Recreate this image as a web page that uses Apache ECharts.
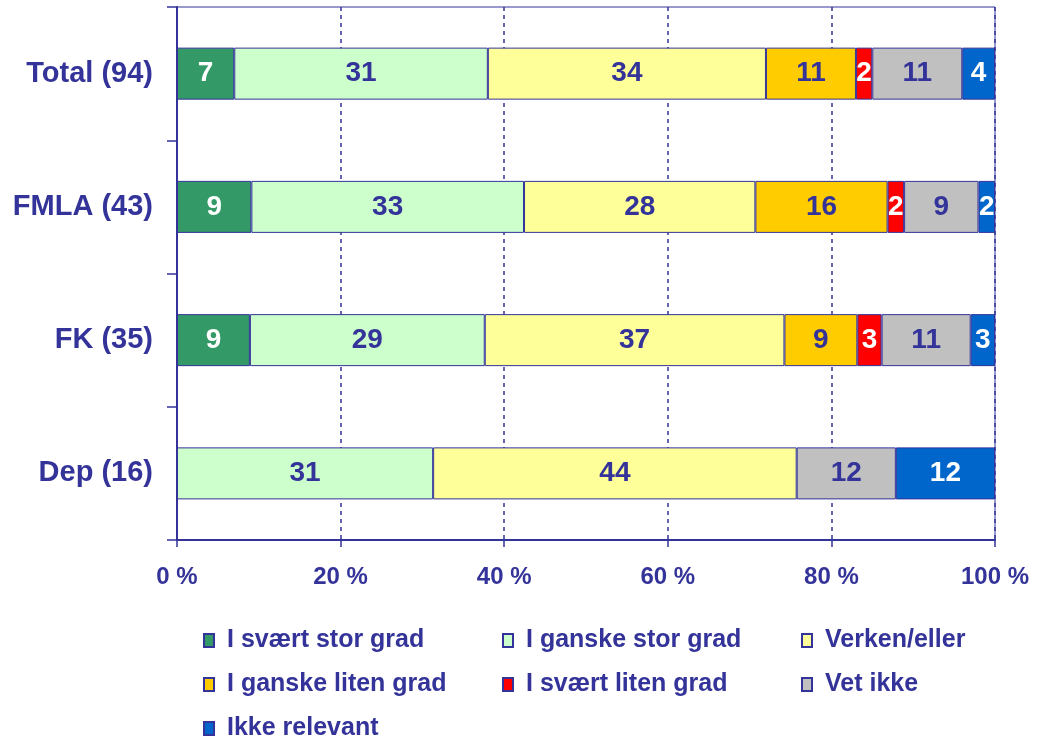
<!DOCTYPE html>
<html>
<head>
<meta charset="utf-8">
<script src="https://cdn.jsdelivr.net/npm/echarts@6/dist/echarts.min.js"></script>
<style>
  html, body { margin: 0; padding: 0; background: #ffffff; }
  #chart { width: 1038px; height: 738px; }
</style>
</head>
<body>
<div id="chart"></div>
<script>
// Groups, top to bottom (number of respondents in brackets)
const categories = ['Total (94)', 'FMLA (43)', 'FK (35)', 'Dep (16)'];

// Answer shares in percent per group, in the order of categories
const svaertStor   = [7, 9, 9, 0];
const ganskeStor   = [31, 33, 29, 31];
const verkenEller  = [34, 28, 37, 44];
const ganskeLiten  = [11, 16, 9, 0];
const svaertLiten  = [2, 2, 3, 0];
const vetIkke      = [11, 9, 11, 12];
const ikkeRelevant = [4, 2, 3, 12];

const xTicks = [0, 20, 40, 60, 80, 100];

const seriesNames = ['I svært stor grad', 'I ganske stor grad', 'Verken/eller',
  'I ganske liten grad', 'I svært liten grad', 'Vet ikke', 'Ikke relevant'];
const seriesValues = [svaertStor, ganskeStor, verkenEller, ganskeLiten, svaertLiten, vetIkke, ikkeRelevant];
const seriesColors = ['#339966', '#CCFFCC', '#FFFF99', '#FFCC00', '#FF0000', '#C0C0C0', '#0066CC'];
const labelColors  = ['#FFFFFF', '#333399', '#333399', '#333399', '#FFFFFF', '#333399', '#FFFFFF'];

const INK = '#333399';
const FONT = '"Liberation Sans", Arial, sans-serif';

// 100 % stacked bars: each row is scaled to its own total, labels keep the stated value
const rowTotals = categories.map((_, i) => seriesValues.reduce((s, arr) => s + arr[i], 0));

const series = seriesNames.map((name, k) => ({
  name: name,
  type: 'bar',
  stack: 'all',
  barWidth: 52,
  data: seriesValues[k].map((v, i) => ({
    value: v > 0 ? v / rowTotals[i] * 100 : null,
    raw: v
  })),
  itemStyle: { color: seriesColors[k], borderColor: INK, borderWidth: 1 },
  label: {
    show: true,
    position: 'inside',
    color: labelColors[k],
    fontFamily: FONT,
    fontWeight: 'bold',
    fontSize: 28,
    formatter: p => (p.data && p.data.raw > 0 ? String(p.data.raw) : '')
  },
  emphasis: { disabled: true }
}));

// Legend laid out in three columns, one legend block per entry
const legendCols = [198, 497, 796];
const legendRows = [623, 667, 711];
const legendText = {
  color: INK, fontFamily: FONT, fontWeight: 'bold', fontSize: 25,
  padding: [0, 0, 0, 8]
};
const legends = seriesNames.map((name, k) => ({
  data: [name],
  left: legendCols[k % 3],
  top: legendRows[Math.floor(k / 3)],
  itemWidth: 10,
  itemHeight: 13,
  icon: 'rect',
  selectedMode: false,
  textStyle: legendText
}));

const chart = echarts.init(document.getElementById('chart'), null, { renderer: 'canvas' });
chart.setOption({
  animation: false,
  backgroundColor: '#ffffff',
  grid: {
    left: 177, right: 43, top: 7, bottom: 198,
    show: true, borderColor: INK, borderWidth: 1, backgroundColor: 'transparent'
  },
  legend: legends,
  xAxis: {
    type: 'value',
    min: xTicks[0],
    max: xTicks[xTicks.length - 1],
    interval: 20,
    axisLine: { show: true, lineStyle: { color: INK, width: 2 } },
    axisTick: { show: true, length: 7, lineStyle: { color: INK, width: 1.5 } },
    axisLabel: {
      color: INK, fontFamily: FONT, fontWeight: 'bold', fontSize: 24, margin: 25,
      formatter: v => v + ' %'
    },
    splitLine: { show: true, lineStyle: { color: INK, width: 1.5, type: [4, 4] } }
  },
  yAxis: {
    type: 'category',
    inverse: true,
    data: categories,
    axisLine: { show: true, lineStyle: { color: INK, width: 2 } },
    axisTick: { show: true, length: 10, lineStyle: { color: INK, width: 1.5 } },
    axisLabel: {
      color: INK, fontFamily: FONT, fontWeight: 'bold', fontSize: 29, margin: 24
    },
    splitLine: { show: false }
  },
  series: series
});
</script>
</body>
</html>
